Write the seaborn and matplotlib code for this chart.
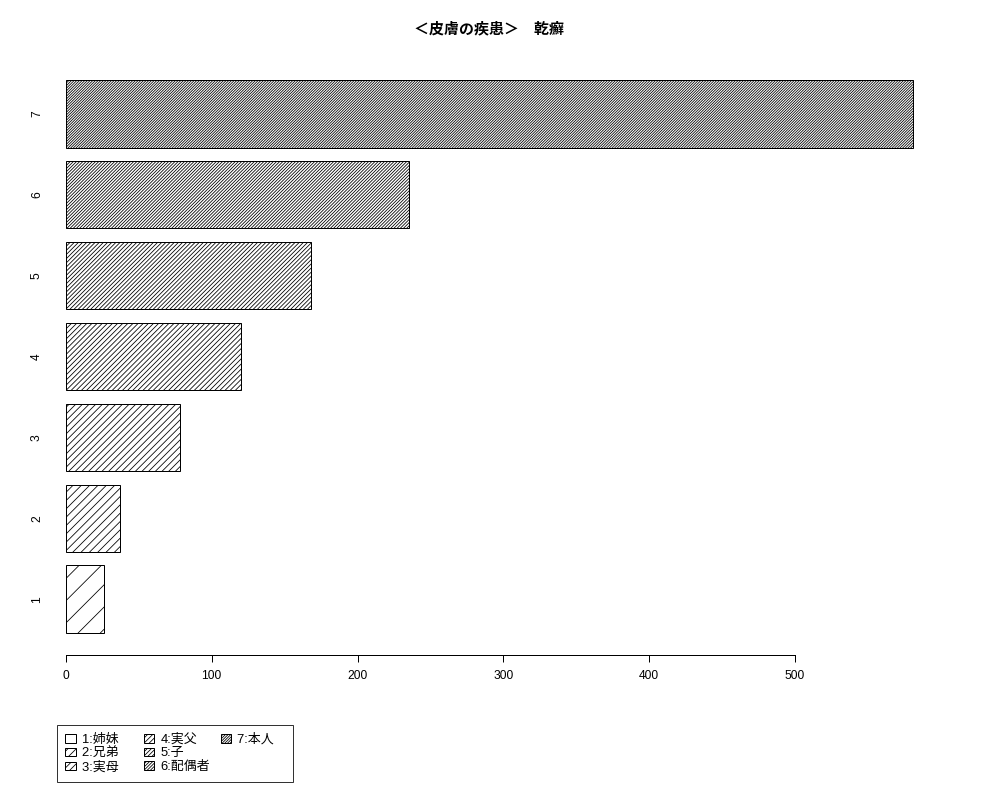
import numpy as np
import pandas as pd
import matplotlib
matplotlib.use('Agg')
import matplotlib.pyplot as plt
import seaborn as sns
from matplotlib.patches import Patch

# ---- data ----
categories = ['1', '2', '3', '4', '5', '6', '7']
values = [26, 37, 78, 120, 168, 235, 581]
legend_labels = ['1:姉妹', '2:兄弟', '3:実母', '4:実父', '5:子', '6:配偶者', '7:本人']
title_text = '＜皮膚の疾患＞　乾癬'
x_ticks = [0, 100, 200, 300, 400, 500]

# ---- style ----
DPI = 200
PT = 72 / DPI  # points per pixel
sns.set_theme(style='white')
plt.rcParams['font.family'] = ['Liberation Sans', 'Noto Sans CJK JP', 'DejaVu Sans']
plt.rcParams['hatch.linewidth'] = 0.8 * PT
plt.rcParams['hatch.color'] = 'black'

hatch_counts = [3, 8, 10, 13, 16, 21, 25]
hatches = ['/' * n for n in hatch_counts]

df = pd.DataFrame({'category': categories, 'value': values})

fig = plt.figure(figsize=(5, 4), dpi=DPI)
ax = fig.add_axes([0.032, 0.18125, 0.915, 0.74625])

order = categories[::-1]
bar_w = 1 / 1.2
sns.barplot(data=df, x='value', y='category', order=order, orient='h',
            color='white', edgecolor='black', linewidth=1.0 * PT,
            width=bar_w, saturation=1, ax=ax)

for p in ax.patches:
    yc = p.get_y() + p.get_height() / 2
    idx = int(round(yc))
    cat = order[idx]
    p.set_hatch(hatches[categories.index(cat)])
    p.set_edgecolor('black')

vmax = max(values)
ax.set_xlim(-0.04 * vmax, 1.04 * vmax)
n = len(categories)
ext = (n - 1 + bar_w) * 0.04
ax.set_ylim(n - 1 + bar_w / 2 + ext, -bar_w / 2 - ext)

for s in ['top', 'right', 'left']:
    ax.spines[s].set_visible(False)
ax.spines['bottom'].set_bounds(x_ticks[0], x_ticks[-1])
ax.spines['bottom'].set_linewidth(1.0 * PT)
ax.spines['bottom'].set_color('black')
ax.set_xticks(x_ticks)
ax.set_xticklabels([str(t) for t in x_ticks])
ax.tick_params(axis='x', bottom=True, length=7 * PT, width=1.0 * PT, color='black',
               direction='out', labelsize=12 * PT, pad=8 * PT, labelcolor='black')
ax.tick_params(axis='y', left=False, length=0, labelsize=12 * PT, pad=-11 * PT,
               labelcolor='black')
for lab in ax.get_yticklabels():
    lab.set_rotation(90)
    lab.set_va('center')
    lab.set_ha('right')
ax.set_xlabel('')
ax.set_ylabel('')
ax.grid(False)

fig.text(0.4895, 1 - 29 / 800, title_text, ha='center', va='center',
         fontweight='bold', fontsize=15 * PT, color='black')

handles = [Patch(facecolor='white', edgecolor='black', hatch=h, linewidth=1.0 * PT)
           for h in hatches]
# R gives every legend column the same width: pad the shorter columns' labels
labels = [lab + ' ' * 4 if i < 3 else lab for i, lab in enumerate(legend_labels)]
labels[6] = labels[6] + ' ' * 3
# two invisible placeholders so the columns hold 3, 3 and 1 entries
for _ in range(2):
    handles.append(Patch(facecolor='none', edgecolor='none', linewidth=0))
    labels.append('')
leg = fig.legend(handles, labels, ncol=3, loc='upper left',
                 bbox_to_anchor=(57 / 1000, 1 - 725 / 800), frameon=True,
                 fancybox=False, edgecolor='black', fontsize=13 * PT,
                 handlelength=0.8, handleheight=0.62, handletextpad=0.45,
                 columnspacing=0.85, labelspacing=0.12, borderpad=0.65,
                 borderaxespad=0)
leg.get_frame().set_linewidth(1.0 * PT)
leg.get_frame().set_facecolor('white')
for t in leg.get_texts():
    t.set_color('black')

fig.savefig('out.png', dpi=DPI, facecolor='white')
